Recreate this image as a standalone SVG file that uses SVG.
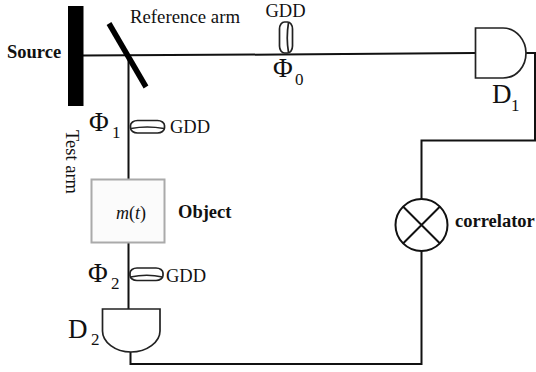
<svg xmlns="http://www.w3.org/2000/svg" width="536" height="372" viewBox="0 0 536 372">
<style>
text{font-family:"Liberation Serif","Times New Roman",serif;fill:#111}
.b{font-weight:bold;font-size:18.500px}
.w{fill:none;stroke:#111;stroke-width:2}
.s{fill:#fff;stroke:#222;stroke-width:1.700}
.t{font-size:18.500px}
.p{font-size:27px}
.u{font-size:17px}
</style>
<rect width="536" height="372" fill="#fff"/>
<g id="connectors">
<path class="w" d="M83 55.500L280 54.500L475 53"/>
<path class="w" d="M128.500 55V179M128.500 243V309"/>
<path class="w" d="M526 53H535V140.500H421.500V199"/>
<path class="w" d="M421.500 251V364H130.500V352"/>
</g>
<g id="source"><rect x="68" y="6" width="15.500" height="100" fill="#000"/><text class="b" x="7" y="58">Source</text></g>
<g id="mirror"><line x1="109" y1="23.500" x2="146" y2="87" stroke="#000" stroke-width="5.500"/><text x="130" y="23" font-size="18.800">Reference arm</text></g>
<g id="test-arm"><text transform="translate(66 130) rotate(90)" font-size="18.500">Test arm</text></g>
<g id="lens0"><rect class="s" x="279.500" y="22" width="13" height="31" rx="5" ry="7"/><path class="s" d="M288.500 22.500Q286 38 288.500 52.500" fill="none"/><text class="t" x="265.500" y="17">GDD</text><text class="p" x="273" y="77">Φ</text><text class="u" x="295" y="85">0</text></g>
<g id="lens1"><rect class="s" x="130.500" y="120.500" width="34" height="12.500" rx="7" ry="5"/><path class="s" d="M131 128.500Q147 125.500 164 128.500" fill="none"/><text class="t" x="170" y="133">GDD</text><text class="p" x="89" y="131">Φ</text><text class="u" x="112" y="138">1</text></g>
<g id="object"><rect x="91.500" y="179.500" width="73" height="63" fill="#fbfbfb" stroke="#aaa" stroke-width="2"/><text x="116" y="219" font-size="18"><tspan font-style="italic">m</tspan>(<tspan font-style="italic">t</tspan>)</text><text class="b" x="178" y="218">Object</text></g>
<g id="lens2"><rect class="s" x="130" y="268" width="33" height="12.500" rx="7" ry="5"/><path class="s" d="M130.500 277Q147 273.500 162.500 277" fill="none"/><text class="t" x="166" y="282">GDD</text><text class="p" x="88" y="282">Φ</text><text class="u" x="111" y="289">2</text></g>
<g id="d1"><path class="s" d="M475.500 28H503C517 28 526 41 526 53C526 66 517 78 503 78H475.500Z"/><text class="p" x="492" y="103">D</text><text class="u" x="511" y="111">1</text></g>
<g id="d2"><path class="s" d="M102.500 309H160V331C160 342 147 352 131 352C115 352 102.500 342 102.500 331Z"/><text class="p" x="68" y="338">D</text><text class="u" x="91" y="345">2</text></g>
<g id="correlator"><circle class="w" cx="421.500" cy="225" r="26"/><path class="w" d="M403 206.500L440 243.500M440 206.500L403 243.500"/><text class="b" x="455" y="227">correlator</text></g>
</svg>
